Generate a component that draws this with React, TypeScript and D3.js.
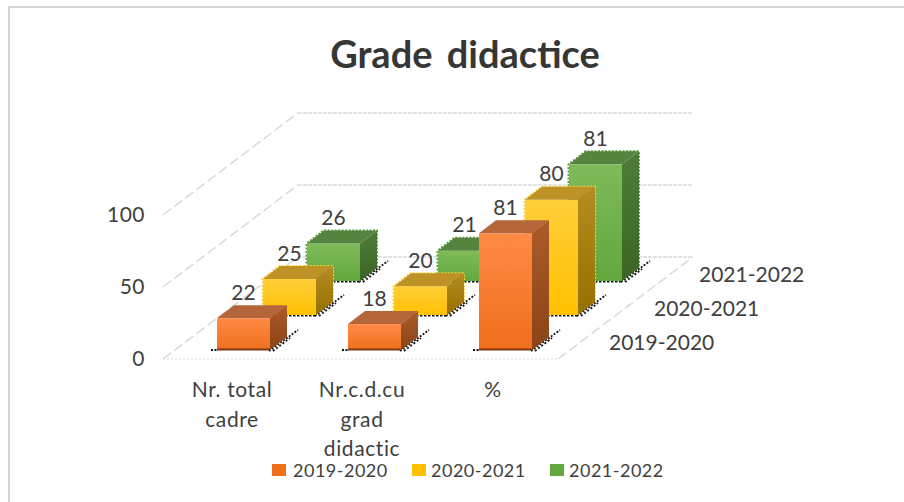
import React from "react";
import * as d3 from "d3";

const categories = [["Nr. total", "cadre"], ["Nr.c.d.cu", "grad", "didactic"], ["%"]];
const seriesNames = ["2019-2020", "2020-2021", "2021-2022"];
const series2019 = [22, 18, 81];
const series2020 = [25, 20, 80];
const series2021 = [26, 21, 81];
const yTicks = [0, 50, 100];
const FONT = "Lato, 'Open Sans', sans-serif";
const TEXT = "#404040";
const GRID = "#d9d9d9";

const palettes = [
  { top: "#b5653a", topFront: "#ff8a45", botFront: "#ef6f1c", sideTop: "#ac5a2a", sideBot: "#8a4418", base: "#7f3a10" },
  { top: "#bf9228", topFront: "#ffcf3a", botFront: "#ffc000", sideTop: "#b58c20", sideBot: "#957000", base: "#a87f00" },
  { top: "#55843e", topFront: "#7fbb5a", botFront: "#62a83c", sideTop: "#4f7d38", sideBot: "#3a6525", base: "#2f5a1c" },
];

const allSeries = [series2019, series2020, series2021];
const x = d3.scaleBand<number>().domain([0, 1, 2]).range([178, 571]);
const y = d3.scaleLinear().domain([0, 100]).range([359, 215]);
const DY = -102;
const BAR_W = 53, BAR_DX = 17, BAR_DY = -13;
const SER_DX = [0, 46, 90];
const SER_DY = [-9, -44, -78];

function Bar({ cat, ser, value }: { cat: number; ser: number; value: number }) {
  const p = palettes[ser];
  const x0 = (x(cat) as number) + (x.bandwidth() - BAR_W) / 2 + SER_DX[ser];
  const b = y(0) + SER_DY[ser];
  const t = y(value) + SER_DY[ser];
  const x1 = x0 + BAR_W;
  return (
    <g>
      {ser > 0 && (
        <path d={`M${x0 - 2},${b + 0.5}H${x1}`} fill="none" stroke="#111" strokeWidth={1.8} strokeDasharray="2.5 1.5" />
      )}
      {ser === 0 && (
        <path d={`M${x0 - 6},${b}H${x0}`} fill="none" stroke="#111" strokeWidth={1.8} strokeDasharray="2 1.5" />
      )}
      <path d={`M${x1 - 1},${b + 1}l${BAR_DX + 12},${BAR_DY - 8}`} fill="none" stroke="#111" strokeWidth={1.8} strokeDasharray="2 1.5" />
      <path d={`M${x1 + 3},${b + 1}l${BAR_DX},${BAR_DY}`} fill="none" stroke="#111" strokeWidth={1.8} strokeDasharray="2 2" />
      {ser > 0 && (
        <path d={`M${x0 - 0.5},${b}V${t}l${BAR_DX},${BAR_DY}h${BAR_W + 0.5}V${b + BAR_DY}`} fill="none" stroke={ser === 1 ? "#ffd23a" : "#5d9a3c"} strokeWidth={2} strokeDasharray="2 1.5" />
      )}
      <rect x={x0} y={t} width={BAR_W} height={b - t} fill={`url(#front${ser})`} />
      <path d={`M${x0},${t}h${BAR_W}l${BAR_DX},${BAR_DY}h${-BAR_W}z`} fill={p.top} />
      <path d={`M${x1},${t}l${BAR_DX},${BAR_DY}V${b + BAR_DY}l${-BAR_DX},${-BAR_DY}z`} fill={`url(#side${ser})`} />
      {ser === 0 && <rect x={x0} y={b - 1.5} width={BAR_W} height={2} fill={p.base} />}
    </g>
  );
}

function BarLabel({ cat, ser, value }: { cat: number; ser: number; value: number }) {
  const x0 = (x(cat) as number) + (x.bandwidth() - BAR_W) / 2 + SER_DX[ser];
  const t = y(value) + SER_DY[ser];
  return (
    <text x={x0 + BAR_W / 2} y={t - 18.5} textAnchor="middle" fontFamily={FONT} fontSize={21} fill={TEXT}>{value}</text>
  );
}

export default function App() {
  const backLeft = 298, wallRight = 693, frontLeft = 163, frontRight = 558;
  return (
    <svg width={904} height={502} style={{ position: "absolute", left: 0, top: 0, background: "#fff" }}>
      <defs>
        {palettes.map((p, i) => (
          <React.Fragment key={i}>
            <linearGradient id={`front${i}`} x1="0" y1="0" x2="0" y2="1">
              <stop offset="0" stopColor={p.topFront} />
              <stop offset="1" stopColor={p.botFront} />
            </linearGradient>
            <linearGradient id={`side${i}`} x1="0" y1="0" x2="0" y2="1">
              <stop offset="0" stopColor={p.sideTop} />
              <stop offset="1" stopColor={p.sideBot} />
            </linearGradient>
          </React.Fragment>
        ))}
      </defs>
      <path d="M9,502V7H904" fill="none" stroke="#d4d4d4" strokeWidth={2} />
      <text x={465} y={67.5} textAnchor="middle" fontFamily={FONT} fontWeight={700} fontSize={38} wordSpacing={5} fill="#363636">Grade didactice</text>

      {yTicks.map((t) => (
        <g key={t}>
          <path d={`M${frontLeft},${y(t)}L${backLeft},${y(t) + DY}`} fill="none" stroke={GRID} strokeWidth={1.5} strokeDasharray="10 4" />
          <path d={`M${backLeft},${y(t) + DY}H${wallRight}`} fill="none" stroke={GRID} strokeWidth={1.5} strokeDasharray="4 1" />
          <text x={145} y={y(t) + 7} textAnchor="end" fontFamily={FONT} fontSize={21} letterSpacing={0.5} fill={TEXT}>{t}</text>
        </g>
      ))}
      <path d={`M${frontLeft},${y(0)}H${frontRight}`} fill="none" stroke={GRID} strokeWidth={1.2} strokeDasharray="2 2" />
      <path d={`M${frontRight},${y(0)}L${wallRight},${y(0) + DY}`} fill="none" stroke={GRID} strokeWidth={1.5} strokeDasharray="10 4" />

      {[2, 1, 0].map((s) => categories.map((_, c) => (
        <Bar key={`${s}-${c}`} cat={c} ser={s} value={allSeries[s][c]} />
      )))}
      {[2, 1, 0].map((s) => categories.map((_, c) => (
        <BarLabel key={`${s}-${c}`} cat={c} ser={s} value={allSeries[s][c]} />
      )))}

      {categories.map((lines, c) => (
        <text key={c} textAnchor="middle" fontFamily={FONT} fontSize={21} letterSpacing={0.6} fill={TEXT}>
          {lines.map((l, i) => (
            <tspan key={i} x={[232, 362, 493][c]} y={397 + i * 29.5}>{l}</tspan>
          ))}
        </text>
      ))}

      {seriesNames.map((n, i) => (
        <text key={n} x={[609, 654, 699][i]} y={[350, 316, 282][i]} fontFamily={FONT} fontSize={21} fill={TEXT}>{n}</text>
      ))}

      {seriesNames.map((n, i) => {
        const lx = [272, 412, 550][i];
        return (
          <g key={n}>
            <rect x={lx} y={464} width={14} height={12} fill={palettes[i].botFront} />
            <text x={lx + [21, 19, 19][i]} y={477} fontFamily={FONT} fontSize={18} letterSpacing={0.5} fill={TEXT}>{n}</text>
          </g>
        );
      })}
    </svg>
  );
}
